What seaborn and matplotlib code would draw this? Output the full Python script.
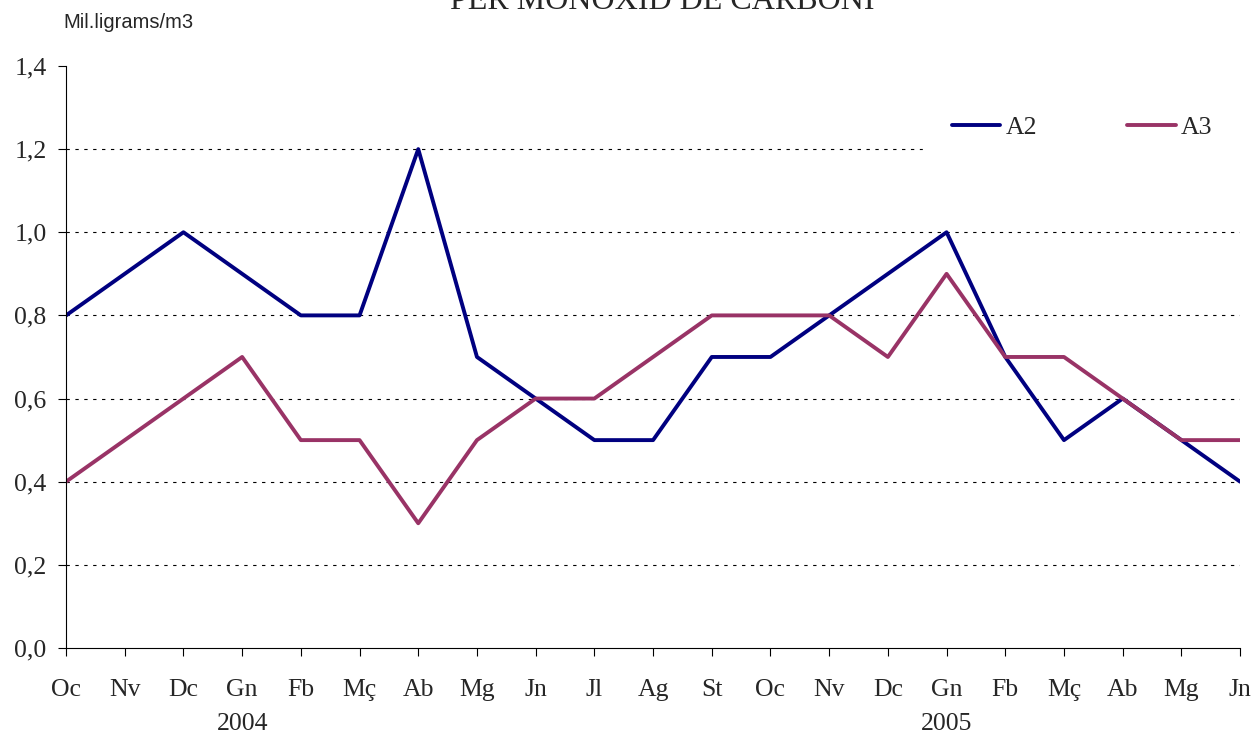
import pandas as pd
import matplotlib.pyplot as plt
import seaborn as sns

# Data
months = ["Oc", "Nv", "Dc", "Gn", "Fb", "Mç", "Ab", "Mg", "Jn", "Jl", "Ag",
          "St", "Oc", "Nv", "Dc", "Gn", "Fb", "Mç", "Ab", "Mg", "Jn"]
a2 = [0.8, 0.9, 1.0, 0.9, 0.8, 0.8, 1.2, 0.7, 0.6, 0.5, 0.5,
      0.7, 0.7, 0.8, 0.9, 1.0, 0.7, 0.5, 0.6, 0.5, 0.4]
a3 = [0.4, 0.5, 0.6, 0.7, 0.5, 0.5, 0.3, 0.5, 0.6, 0.6, 0.7,
      0.8, 0.8, 0.8, 0.7, 0.9, 0.7, 0.7, 0.6, 0.5, 0.5]
years = ["2004", "2005"]
year_pos = [3, 15]

idx = list(range(len(months)))
df = pd.DataFrame({
    "pos": idx * 2,
    "value": a2 + a3,
    "serie": ["A2"] * len(a2) + ["A3"] * len(a3),
})

sns.set_style("white")
plt.rcParams["font.family"] = ["Liberation Serif", "DejaVu Serif"]

fig = plt.figure(figsize=(12.53, 7.33), dpi=100)
ax = fig.add_axes([0.0527, 0.116, 0.937, 0.794])

sns.lineplot(data=df, x="pos", y="value", hue="serie",
             palette={"A2": "#000080", "A3": "#993366"},
             linewidth=2.8, ax=ax)

ax.set_xlim(0, len(months) - 1)
ax.set_ylim(0, 1.4)
ax.set_yticks([0, 0.2, 0.4, 0.6, 0.8, 1.0, 1.2, 1.4])
ax.set_yticklabels([f"{v:.1f}".replace(".", ",") for v in ax.get_yticks()])
ax.set_xticks(idx)
ax.set_xticklabels(months)
ax.tick_params(axis="both", bottom=True, left=True, direction="out",
               length=6, width=0.8, color="black", labelsize=18.5)
ax.tick_params(axis="x", pad=16)
ax.tick_params(axis="y", pad=8)
ax.set_xlabel("")
ax.set_ylabel("")

for spine in ["top", "right"]:
    ax.spines[spine].set_visible(False)
for spine in ["left", "bottom"]:
    ax.spines[spine].set_color("black")
    ax.spines[spine].set_linewidth(0.8)

# dotted gridlines
for v in [0.2, 0.4, 0.6, 0.8, 1.0, 1.2]:
    ax.axhline(v, color="black", linestyle=(0, (3, 5)), linewidth=0.8, zorder=0)

for y, p in zip(years, year_pos):
    ax.text(p, -0.141, y, ha="center", va="baseline", fontsize=18.5,
            transform=ax.get_xaxis_transform())

leg = ax.legend(loc="center", bbox_to_anchor=(1082 / 1253, 1 - 128 / 733),
                bbox_transform=fig.transFigure, ncol=2,
                frameon=True, fontsize=18.5, handlelength=1.9,
                columnspacing=3.5, handletextpad=0.2, borderpad=1.1)
leg.get_frame().set_edgecolor("white")
leg.get_frame().set_facecolor("white")
leg.get_frame().set_alpha(1)
leg.set_zorder(5)

fig.text(662 / 1253, 1 - 9 / 733, "PER MONOXID DE CARBONI", ha="center",
         va="baseline", fontsize=23)
fig.text(63 / 1253, 1 - 23 / 733, "Mil.ligrams/m3", ha="left", va="center",
         fontsize=14.5, family=["Liberation Sans", "DejaVu Sans"])

fig.savefig("out.png", dpi=100)
